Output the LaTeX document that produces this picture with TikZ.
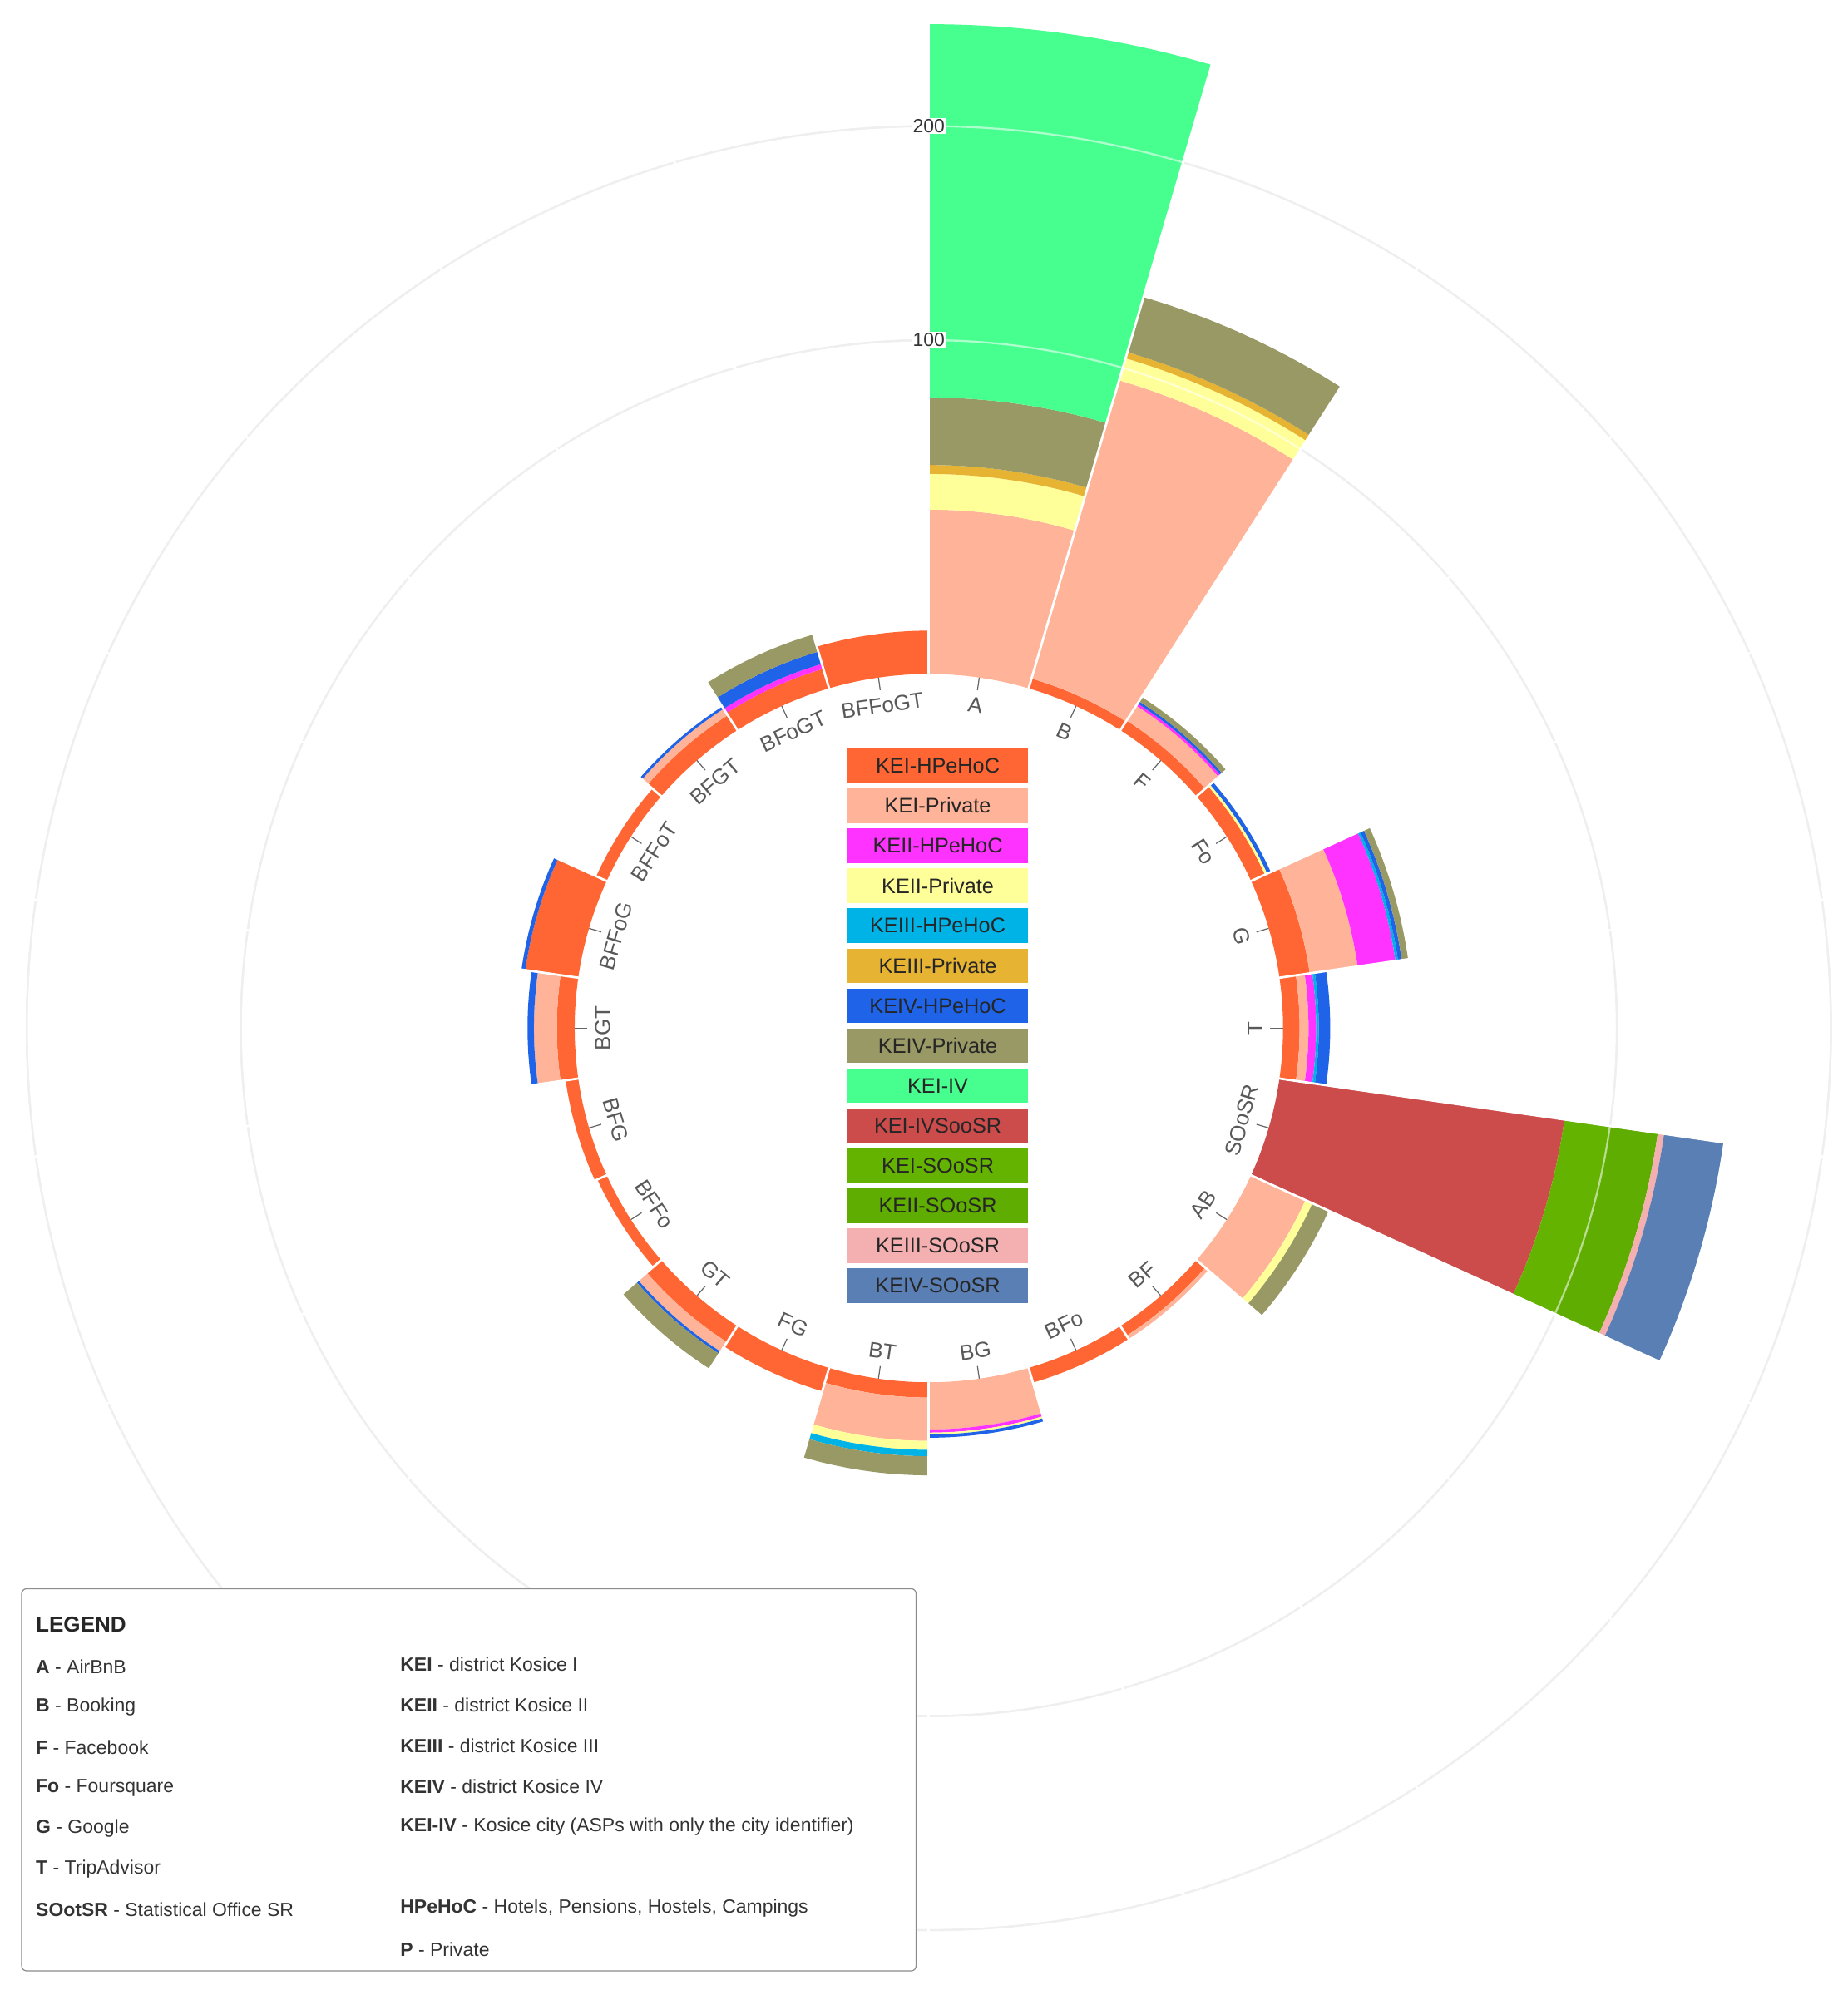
\documentclass[tikz,border=0pt]{standalone}
\usepackage{fontspec}
\setmainfont{Liberation Sans}
\definecolor{c1}{HTML}{FF6633}
\definecolor{c2}{HTML}{FFB399}
\definecolor{c3}{HTML}{FF33FF}
\definecolor{c4}{HTML}{FFFF99}
\definecolor{c5}{HTML}{00B3E6}
\definecolor{c6}{HTML}{E6B333}
\definecolor{c7}{HTML}{1E63E8}
\definecolor{c8}{HTML}{999966}
\definecolor{c9}{HTML}{47FF8E}
\definecolor{c10}{HTML}{CC4B4B}
\definecolor{c11}{HTML}{63B300}
\definecolor{c12}{HTML}{5FAD00}
\definecolor{c13}{HTML}{F4B0B0}
\definecolor{c14}{HTML}{5A7FB5}
\definecolor{gridc}{HTML}{DDDDDD}
\definecolor{txt}{HTML}{333333}
\newcommand\wbar[2]{\foreach \c/\r [remember=\r as \rp (initially 278)] in {#2}{%
  \pgfmathsetmacro\aA{#1*360/22-90}\pgfmathsetmacro\aB{(#1+1)*360/22-90}%
  \fill[\c] (\aA:\rp) -- (\aA:\r) arc[start angle=\aA,end angle=\aB,radius=\r] -- (\aB:\rp) arc[start angle=\aB,end angle=\aA,radius=\rp] -- cycle;}}
\tikzset{
  cat/.style={font=\fontsize{17}{19}\selectfont, text=black!65, inner sep=0pt},
  keybox/.style={minimum width=142, minimum height=27, inner sep=0pt, font=\fontsize{16.5}{18}\selectfont, text=black!85},
  legt/.style={anchor=west, inner sep=0pt, font=\fontsize{15}{17}\selectfont, text=txt},
}
\begin{document}
\begin{tikzpicture}[x=1pt,y=-1pt]
\useasboundingbox (0,0) rectangle (1450,1562);
\begin{scope}[shift={(729,807)}]
\draw[gridc,line width=1.5] (0,0) circle[radius=540] (0,0) circle[radius=708];
\wbar{0}{c2/407,c4/435,c6/442,c8/495,c9/788}
\wbar{1}{c1/286,c2/530,c4/548,c6/553,c8/598}
\wbar{2}{c1/287,c2/301,c3/303,c7/305,c8/309}
\wbar{3}{c1/290,c4/292,c7/295}
\wbar{4}{c1/302,c2/340,c3/370,c5/372,c7/375,c8/380}
\wbar{5}{c1/291,c2/298,c3/304,c5/306,c7/315}
\wbar{6}{c10/504,c11/540,c12/578,c13/583,c14/630}
\wbar{7}{c2/325,c4/331,c8/345}
\wbar{8}{c1/287,c2/290}
\wbar{9}{c1/290}
\wbar{10}{c2/315,c3/317.5,c4/319,c7/321.5}
\wbar{11}{c1/290,c2/324,c4/331,c5/336,c8/351}
\wbar{12}{c1/297}
\wbar{13}{c1/293,c2/302,c7/304,c8/318}
\wbar{14}{c1/286}
\wbar{15}{c1/288}
\wbar{16}{c1/292,c2/310,c7/315}
\wbar{17}{c1/320,c7/323}
\wbar{18}{c1/287}
\wbar{19}{c1/292,c2/298,c7/300}
\wbar{20}{c1/294,c3/298,c7/308,c8/322}
\wbar{21}{c1/312}
\foreach \i in {0,...,21}{\pgfmathsetmacro\aA{\i*360/22-90}\draw[white,line width=1.8] (\aA:276) -- (\aA:800);}
\draw[white,opacity=0.55,line width=1.5] (0,0) circle[radius=540] (0,0) circle[radius=708];
\node[fill=white,inner sep=1pt,font=\fontsize{15}{17}\selectfont,text=txt] (g200) at (0,-708) {200};
\node[fill=white,inner sep=1pt,font=\fontsize{15}{17}\selectfont,text=txt] (g100) at (0,-540) {100};
\foreach \i/\t in {0/A,1/B,2/F,3/Fo,4/G,5/T,6/SOoSR,7/AB,8/BF,9/BFo,10/BG,11/BT,12/FG,13/GT,14/BFFo,15/BFG,16/BGT,17/BFFoG,18/BFFoT,19/BFGT,20/BFoGT,21/BFFoGT}{
  \pgfmathsetmacro\th{(\i+0.5)*360/22}
  \pgfmathsetmacro\rot{\th<90 ? -\th : (\th<270 ? 180-\th : 360-\th)}
  \draw[black!60,line width=0.8] (\th-90:268) -- (\th-90:278);
  \node[cat,rotate=\rot] (l\i) at (\th-90:256) {\t};
}
\end{scope}
\foreach \k/\t/\c in {0/KEI-HPeHoC/c1,1/KEI-Private/c2,2/KEII-HPeHoC/c3,3/KEII-Private/c4,4/KEIII-HPeHoC/c5,5/KEIII-Private/c6,6/KEIV-HPeHoC/c7,7/KEIV-Private/c8,8/KEI-IV/c9,9/KEI-IVSooSR/c10,10/KEI-SOoSR/c11,11/KEII-SOoSR/c12,12/KEIII-SOoSR/c13,13/KEIV-SOoSR/c14}{
  \node[keybox,fill=\c] (k\k) at (736,601+31.4*\k) {\t};
}
\draw[black!45,fill=white,rounded corners=4,line width=0.8] (17,1247) rectangle (719,1547);
\node[legt,font=\bfseries\fontsize{17}{19}\selectfont,text=black!85] (lg) at (28,1275) {LEGEND};
\foreach \k/\a/\b in {0/A/AirBnB,1/B/Booking,2/F/Facebook,3/Fo/Foursquare,4/G/Google,5/T/TripAdvisor,6/SOotSR/Statistical Office SR}{
  \node[legt] (la\k) at (28,1308+31.8*\k) {\textbf{\a} - \b};
}
\foreach \k/\a/\b in {0/KEI/district Kosice I,1/KEII/district Kosice II,2/KEIII/district Kosice III,3/KEIV/district Kosice IV,4/KEI-IV/Kosice city (ASPs with only the city identifier),6/HPeHoC/{Hotels, Pensions, Hostels, Campings},7/P/Private}{
  \node[legt] (lb\k) at (314,1306+32*\k) {\textbf{\a} - \b};
}
\end{tikzpicture}
\end{document}
